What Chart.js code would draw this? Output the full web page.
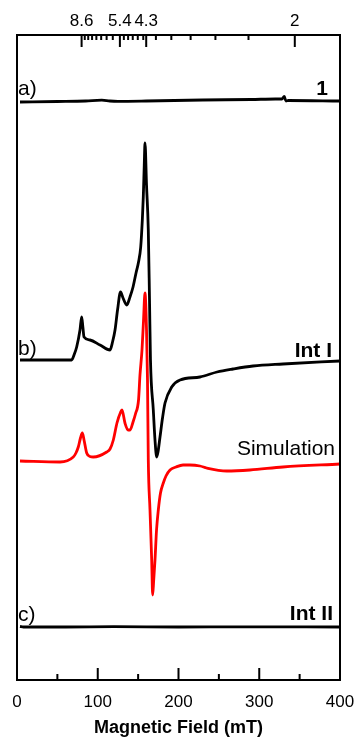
<!DOCTYPE html>
<html>
<head>
<meta charset="utf-8">
<script src="https://cdn.jsdelivr.net/npm/chart.js@4"></script>
<style>
  html, body { margin: 0; padding: 0; background: #fff; }
  canvas { display: block; }
</style>
</head>
<body>
<canvas id="epr" width="356" height="739"></canvas>
<script>
// field axis (mT) and signals (arb. units, positive up), one pair per trace
const fieldA = [3.7, 50, 85, 105, 115, 125, 160, 230, 290, 320, 328, 331, 333, 336, 400];
const sigA   = [-1, -0.5, 0, 0.8, 0, -0.3, 0, 1, 1.5, 2, 2, 4.5, 0, 0.5, 0];

const fieldB = [3.7, 67.7, 70.6, 73.9, 78, 80.1, 81.7, 83, 90.4, 102.8, 115.2, 118.3, 121.4, 124.5, 128.2, 131.3, 135.9, 139.9, 143.7, 147.4, 150.5, 153.2, 155.2, 156.4, 157.6, 158.5, 160.4, 162.6, 164.1, 165.3, 168.8, 170.9, 173, 174.6, 177.1, 180.2, 183.3, 191.6, 201.9, 226.6, 247.7, 267.5, 292.3, 329.4, 400];
const sigB   = [0, 0, 5, 13, 30, 43, 32, 23, 20, 15, 10, 18, 30, 50, 68, 62, 55, 63, 73, 87, 98, 113, 140, 163, 195, 217, 175, 130, 60, 0, -50, -80, -97, -92, -77, -58, -43, -27, -20, -17, -12, -9, -6, -4, -1];

const fieldSim = [3.7, 53.3, 69.7, 73, 75.9, 78.6, 80.9, 83, 86.3, 90.4, 94.5, 111.1, 115.2, 119.3, 123.8, 128.4, 130, 133.7, 137.5, 140, 143.7, 146.7, 150.5, 152.3, 154.8, 156.7, 158.5, 160.4, 161.6, 162.6, 164.7, 166.8, 168, 169.3, 170.9, 172.8, 175, 177.7, 181.2, 184.5, 189.5, 196.9, 205.6, 214.2, 226.6, 234.9, 259.7, 288.5, 329.4, 400];
const sigSim   = [-1, -2, 3, 7, 13, 22, 27, 20, 7, 3.5, 3, 8, 11, 20, 37, 48, 50, 37, 30, 30, 38, 46, 60, 85, 110, 140, 167, 130, 80, 0, -50, -100, -135, -120, -100, -70, -50, -33, -23, -16, -10, -7, -5, -5, -6, -8, -11, -10, -7, -4];

const fieldC = [3.7, 8, 60, 120, 200, 280, 400];
const sigC   = [0.5, 0, 0, 0.3, 0, 0.2, 0];

// vertical stacking of the traces
const offsetA = 579, offsetB = 320, offsetSim = 220, offsetC = 53;

// top axis: g values (X-band, ~9.63 GHz)
const mwFreq = 9.63;
const gMajor = [8.6, 5.4, 4.3, 2];
const gMinor = [8.2, 7.8, 7.4, 7.0, 6.6, 6.2, 5.8, 5.2, 5.0, 4.8, 4.6, 4.4, 4.0, 3.6, 3.2, 2.8, 2.4];
const gToField = g => 71.4477 * mwFreq / g;

const fontName = "'Liberation Sans', Arial, sans-serif";

const toPoints = (field, sig, off) => field.map((b, i) => ({ x: b, y: sig[i] + off }));
const noSidePadding = s => { s.paddingLeft = 0; s.paddingRight = 0; };

const frameTicks = {
  id: 'frameTicks',
  afterDatasetsDraw(chart) {
    const { ctx, chartArea: a, scales: { x, y } } = chart;
    ctx.save();
    ctx.strokeStyle = '#000';
    ctx.lineWidth = 2;
    ctx.strokeRect(a.left, a.top, a.right - a.left, a.bottom - a.top);
    ctx.beginPath();
    for (let v = 0; v <= 400; v += 50) {
      const px = x.getPixelForValue(v);
      const len = v % 100 === 0 ? 12 : 6;
      ctx.moveTo(px, a.bottom);
      ctx.lineTo(px, a.bottom - len);
    }
    gMajor.forEach(g => {
      const px = x.getPixelForValue(gToField(g));
      ctx.moveTo(px, a.top);
      ctx.lineTo(px, a.top + 12);
    });
    gMinor.forEach(g => {
      const px = x.getPixelForValue(gToField(g));
      ctx.moveTo(px, a.top);
      ctx.lineTo(px, a.top + 5);
    });
    ctx.stroke();

    // trace labels
    ctx.fillStyle = '#000';
    ctx.textBaseline = 'alphabetic';
    const put = (text, bold, align, xp, off, dy) => {
      ctx.font = (bold ? 'bold ' : '') + '21px ' + fontName;
      ctx.textAlign = align;
      ctx.fillText(text, xp, y.getPixelForValue(off) + dy);
    };
    put('a)', false, 'left', a.left + 1, offsetA, -6);
    put('1', true, 'right', a.right - 12, offsetA, -6);
    put('b)', false, 'left', a.left + 1, offsetB, -5);
    put('Int I', true, 'right', a.right - 8, offsetB, -3);
    put('Simulation', false, 'right', a.right - 5, offsetSim, -5);
    put('c)', false, 'left', a.left + 1, offsetC, -6);
    put('Int II', true, 'right', a.right - 7, offsetC, -7);
    ctx.restore();
  }
};

new Chart(document.getElementById('epr').getContext('2d'), {
  type: 'line',
  data: {
    datasets: [
      { label: '1', data: toPoints(fieldA, sigA, offsetA), borderColor: '#000' },
      { label: 'Int I', data: toPoints(fieldB, sigB, offsetB), borderColor: '#000' },
      { label: 'Simulation', data: toPoints(fieldSim, sigSim, offsetSim), borderColor: '#ff0000' },
      { label: 'Int II', data: toPoints(fieldC, sigC, offsetC), borderColor: '#000' }
    ]
  },
  options: {
    responsive: false,
    animation: false,
    layout: { padding: { left: 17, right: 16, top: 8.6, bottom: 0 } },
    plugins: { legend: { display: false }, tooltip: { enabled: false } },
    elements: {
      point: { radius: 0 },
      line: { borderWidth: 2.8, cubicInterpolationMode: 'monotone', fill: false }
    },
    scales: {
      x: {
        type: 'linear', position: 'bottom', min: 0, max: 400,
        grid: { display: false, drawTicks: false }, border: { display: false },
        afterFit: noSidePadding,
        ticks: { stepSize: 100, maxRotation: 0, padding: 12, color: '#000', font: { family: fontName, size: 17 } },
        title: { display: true, text: 'Magnetic Field (mT)', color: '#000', padding: { top: -7, bottom: 0 }, font: { family: fontName, size: 18, weight: 'bold' } }
      },
      g: {
        type: 'linear', position: 'top', min: 0, max: 400,
        grid: { display: false, drawTicks: false }, border: { display: false },
        afterFit: noSidePadding,
        afterBuildTicks: s => { s.ticks = gMajor.map(g => ({ value: gToField(g) })); },
        ticks: {
          autoSkip: false, maxRotation: 0, padding: 3, color: '#000',
          font: { family: fontName, size: 17 },
          callback: (v, i) => String(gMajor[i])
        }
      },
      y: { display: false, min: 0, max: 645 }
    }
  },
  plugins: [frameTicks]
});
</script>
</body>
</html>
